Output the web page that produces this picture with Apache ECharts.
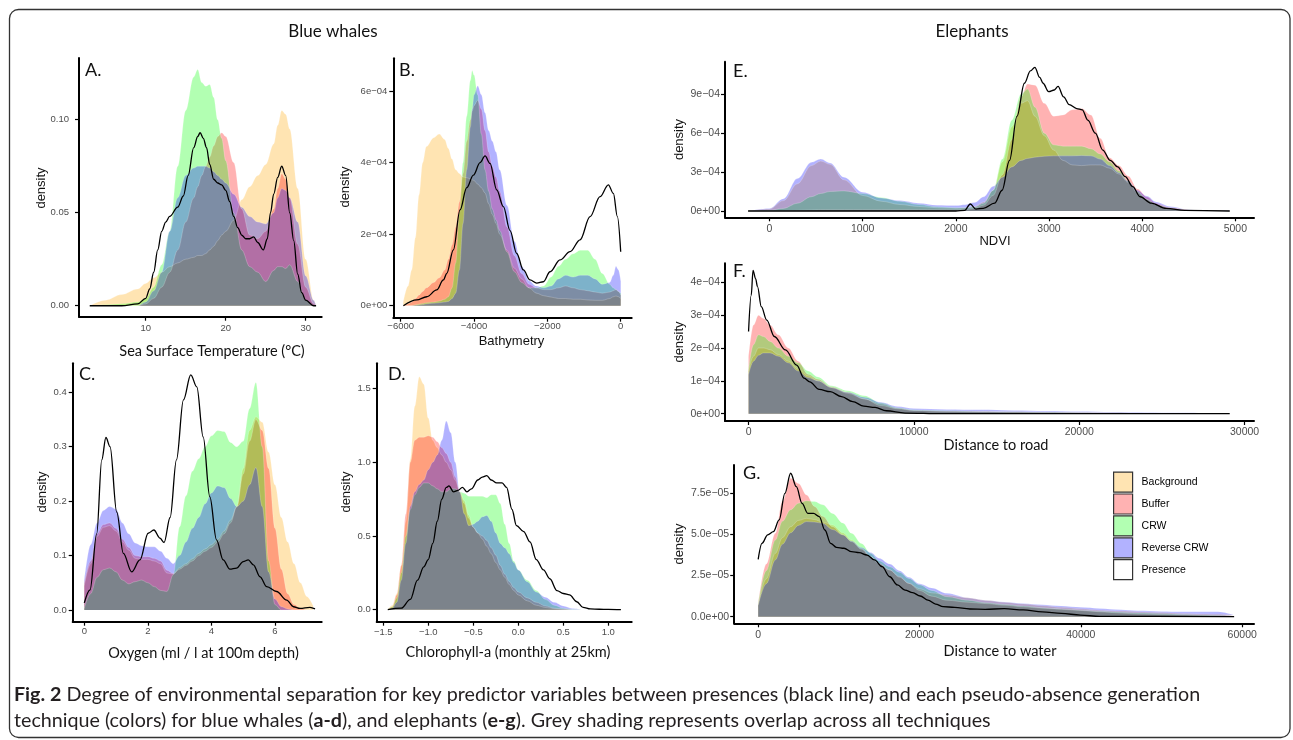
<!DOCTYPE html>
<html><head><meta charset="utf-8">
<script src="https://cdn.jsdelivr.net/npm/echarts@6/dist/echarts.min.js"></script>
<style>html,body{margin:0;padding:0;background:#fff}#c{width:1293px;height:740px}</style>
</head><body><div id="c"></div>
<script>
// ---------- shared ----------
const techniques = ['Background', 'Buffer', 'CRW', 'Reverse CRW'];
const presenceName = 'Presence';
const fillColors = ['#FFA500', '#FF0000', '#00FF00', '#0000FF'];
const legendColors = ['rgba(255,165,0,0.3)', 'rgba(255,0,0,0.3)', 'rgba(0,255,0,0.3)', 'rgba(0,0,255,0.3)'];

// ---------- A. Sea Surface Temperature ----------
const A_x = [3,5,7,9,10,11,12,13,14,15,16,16.5,17,17.5,18,18.5,19,19.5,20,21,22,23,24,25,26,26.5,27,27.5,28,29,30,31,31.3];
const A_background = [0,.003,.006,.009,.012,.015,.018,.021,.023,.025,.026,.027,.027,.028,.030,.032,.035,.038,.040,.046,.057,.064,.070,.076,.087,.097,.105,.103,.095,.063,.025,.003,0];
const A_buffer = [0,0,0,0,.001,.004,.01,.018,.03,.045,.058,.064,.07,.075,.08,.086,.091,.093,.091,.077,.052,.038,.036,.04,.052,.063,.071,.068,.058,.033,.01,.001,0];
const A_crw = [0,.0005,.001,.002,.004,.01,.022,.04,.075,.105,.123,.127,.12,.118,.119,.112,.1,.09,.078,.05,.03,.021,.018,.013,.019,.021,.021,.02,.022,.013,.003,0,0];
const A_reverse = [0,0,0,0,.002,.008,.018,.04,.058,.07,.074,.075,.075,.075,.074,.072,.07,.068,.066,.06,.053,.048,.045,.044,.05,.058,.063,.062,.058,.045,.016,.003,0];
const A_presence_x = [3,7,9,10,10.5,11,11.5,12,12.5,13,14,14.7,15.3,16,16.5,16.8,17.2,17.6,18,18.5,19,19.5,20,20.5,21,21.5,22,22.5,23,23.5,24,24.7,25.2,25.6,26,26.5,27,27.5,28,28.5,29,29.5,30,31,31.3];
const A_presence = [0,0,.001,.004,.009,.018,.03,.04,.045,.048,.053,.059,.07,.085,.091,.093,.09,.085,.076,.068,.066,.065,.062,.056,.048,.042,.038,.036,.036,.037,.034,.030,.036,.05,.06,.069,.075,.07,.05,.035,.017,.007,.003,0,0];
const A_xticks = [10, 20, 30];
const A_xlabels = ['10', '20', '30'];
const A_yticks = [0, 0.05, 0.10];
const A_ylabels = ['0.00', '0.05', '0.10'];

// ---------- B. Bathymetry (densities in units of 1e-4) ----------
const B_unit = 1e-4;
const B_x = [-5930,-5800,-5700,-5600,-5500,-5400,-5300,-5100,-4950,-4800,-4700,-4600,-4500,-4400,-4300,-4200,-4100,-4050,-4000,-3900,-3800,-3700,-3600,-3500,-3400,-3300,-3100,-2900,-2700,-2500,-2300,-2100,-1900,-1700,-1500,-1300,-1100,-900,-700,-500,-300,-200,-130,-60,0];
const B_background = [0.1,0.55,1.0,1.9,3.1,4.0,4.45,4.7,4.8,4.65,4.4,4.1,3.8,3.7,3.6,3.58,3.55,3.52,3.5,3.4,3.3,3.15,2.85,2.55,2.3,2.0,1.55,1.05,0.75,0.5,0.35,0.28,0.24,0.2,0.2,0.18,0.18,0.16,0.15,0.15,0.2,0.25,0.27,0.25,0.2];
const B_buffer = [0,0.05,0.1,0.2,0.3,0.4,0.5,0.65,0.78,1.0,1.3,1.7,2.2,2.9,3.7,4.6,5.2,5.45,5.6,5.75,5.5,4.9,4.3,3.9,3.6,3.2,2.2,1.4,0.9,0.6,0.5,0.45,0.45,0.5,0.55,0.5,0.45,0.42,0.38,0.35,0.38,0.42,0.45,0.4,0.3];
const B_crw = [0,0,0,0.02,0.04,0.06,0.08,0.1,0.13,0.18,0.25,0.5,1.2,2.6,4.0,5.3,6.3,6.58,6.45,5.9,4.8,3.8,3.2,2.7,2.4,2.1,1.5,0.95,0.65,0.5,0.5,0.55,0.8,1.1,1.3,1.45,1.55,1.55,1.3,0.9,0.6,0.5,0.45,0.4,0.35];
const B_reverse = [0,0,0,0.01,0.02,0.03,0.05,0.07,0.08,0.1,0.12,0.2,0.35,1.0,2.3,3.8,5.0,5.5,5.9,6.15,5.9,5.4,4.9,4.6,4.3,3.8,2.8,1.8,1.1,0.7,0.55,0.5,0.55,0.75,0.85,0.8,0.85,0.85,0.75,0.6,0.65,0.85,1.1,1.0,0.7];
const B_presence_x = [-5927,-5564,-5290,-5018,-4836,-4745,-4564,-4382,-4200,-4018,-3836,-3700,-3564,-3382,-3200,-3018,-2836,-2655,-2473,-2291,-2109,-1927,-1655,-1382,-1109,-836,-564,-336,-200,-91,0];
const B_presence = [0,0.16,0.25,0.44,0.72,0.9,1.56,2.68,3.3,3.65,4.0,4.19,3.98,3.24,2.77,2.1,1.46,1.0,0.72,0.63,0.67,0.95,1.28,1.51,1.84,2.49,3.05,3.38,3.14,2.49,1.51];
const B_xticks = [-6000, -4000, -2000, 0];
const B_xlabels = ['\u22126000', '\u22124000', '\u22122000', '0'];
const B_yticks = [0, 2e-4, 4e-4, 6e-4];
const B_ylabels = ['0e+00', '2e\u221204', '4e\u221204', '6e\u221204'];

// ---------- C. Oxygen ----------
const C_x = [0,0.2,0.4,0.6,0.8,1.0,1.2,1.4,1.6,1.8,2.0,2.2,2.4,2.6,2.8,3.0,3.2,3.4,3.6,3.8,4.0,4.2,4.4,4.6,4.8,5.0,5.2,5.4,5.6,5.8,6.0,6.2,6.4,6.6,6.8,7.0,7.2];
const C_background = [0.045,0.085,0.135,0.152,0.155,0.145,0.125,0.11,0.095,0.093,0.093,0.09,0.085,0.068,0.066,0.078,0.085,0.094,0.104,0.112,0.12,0.13,0.145,0.165,0.19,0.26,0.33,0.355,0.345,0.29,0.23,0.17,0.125,0.085,0.05,0.025,0.008];
const C_buffer = [0.049,0.09,0.14,0.157,0.16,0.15,0.13,0.115,0.1,0.098,0.098,0.095,0.09,0.073,0.067,0.075,0.082,0.09,0.1,0.108,0.115,0.125,0.14,0.16,0.19,0.25,0.31,0.35,0.33,0.26,0.15,0.075,0.03,0.01,0.003,0,0];
const C_crw = [0.003,0.03,0.06,0.074,0.077,0.07,0.055,0.048,0.052,0.055,0.05,0.043,0.036,0.034,0.065,0.153,0.21,0.255,0.278,0.3,0.32,0.33,0.328,0.308,0.3,0.31,0.37,0.418,0.3,0.09,0.01,0,0,0,0,0,0];
const C_reverse = [0.055,0.12,0.16,0.183,0.19,0.185,0.16,0.14,0.123,0.118,0.116,0.116,0.108,0.095,0.085,0.1,0.125,0.15,0.17,0.195,0.215,0.228,0.225,0.205,0.19,0.2,0.23,0.262,0.19,0.07,0.02,0.006,0.002,0,0,0,0];
const C_presence_x = [0,0.18,0.39,0.55,0.68,0.81,1.02,1.23,1.49,1.75,2.01,2.19,2.38,2.51,2.7,2.9,3.12,3.35,3.54,3.74,3.95,4.16,4.37,4.58,4.79,5.0,5.16,5.32,5.53,5.74,6.05,6.37,6.58,6.79,7.1,7.26];
const C_presence = [0.013,0.037,0.14,0.276,0.317,0.30,0.18,0.104,0.07,0.092,0.141,0.147,0.132,0.124,0.17,0.276,0.386,0.432,0.41,0.318,0.208,0.129,0.092,0.075,0.077,0.089,0.092,0.083,0.061,0.043,0.034,0.018,0.006,0.003,0.005,0.002];
const C_xticks = [0, 2, 4, 6];
const C_xlabels = ['0', '2', '4', '6'];
const C_yticks = [0, 0.1, 0.2, 0.3, 0.4];
const C_ylabels = ['0.0', '0.1', '0.2', '0.3', '0.4'];

// ---------- D. Chlorophyll-a ----------
const D_x = [-1.45,-1.4,-1.35,-1.3,-1.25,-1.2,-1.15,-1.1,-1.05,-1.0,-0.95,-0.9,-0.85,-0.8,-0.75,-0.7,-0.65,-0.6,-0.55,-0.5,-0.45,-0.4,-0.35,-0.3,-0.25,-0.2,-0.15,-0.1,-0.05,0,0.1,0.2,0.3,0.4,0.5,0.6,0.7];
const D_background = [0,0.03,0.11,0.3,0.6,1.02,1.38,1.58,1.53,1.3,1.15,1.1,1.05,1.0,0.95,0.88,0.8,0.74,0.64,0.56,0.52,0.48,0.43,0.38,0.32,0.27,0.22,0.17,0.13,0.1,0.06,0.03,0.015,0.007,0.003,0,0];
const D_buffer = [0,0.02,0.1,0.3,0.65,1.0,1.15,1.17,1.17,1.18,1.17,1.14,1.1,1.06,1.0,0.9,0.8,0.72,0.62,0.56,0.52,0.5,0.47,0.42,0.37,0.3,0.24,0.19,0.15,0.12,0.08,0.05,0.025,0.01,0.004,0,0];
const D_crw = [0,0.02,0.08,0.25,0.5,0.68,0.78,0.83,0.86,0.86,0.84,0.82,0.8,0.8,0.82,0.82,0.8,0.79,0.77,0.77,0.77,0.77,0.76,0.78,0.78,0.72,0.58,0.45,0.33,0.27,0.2,0.13,0.07,0.03,0.01,0.003,0];
const D_reverse = [0,0.01,0.05,0.2,0.45,0.7,0.8,0.85,0.88,0.95,1.0,1.05,1.15,1.28,1.2,1.0,0.8,0.65,0.57,0.58,0.6,0.63,0.64,0.6,0.52,0.45,0.42,0.38,0.32,0.27,0.19,0.12,0.085,0.05,0.025,0.008,0];
const D_presence_x = [-1.45,-1.3,-1.2,-1.12,-1.05,-1.0,-0.95,-0.9,-0.85,-0.8,-0.77,-0.72,-0.67,-0.62,-0.57,-0.52,-0.45,-0.4,-0.35,-0.3,-0.24,-0.18,-0.13,-0.07,-0.02,0.06,0.13,0.2,0.28,0.35,0.43,0.5,0.57,0.65,0.72,0.8,0.9,1.0,1.14];
const D_presence = [0,0.01,0.07,0.2,0.29,0.34,0.45,0.6,0.75,0.83,0.84,0.8,0.81,0.83,0.8,0.82,0.88,0.9,0.91,0.88,0.86,0.86,0.83,0.68,0.57,0.53,0.46,0.34,0.27,0.21,0.13,0.11,0.1,0.054,0.016,0.005,0.003,0.002,0];
const D_xticks = [-1.5, -1.0, -0.5, 0, 0.5, 1.0];
const D_xlabels = ['\u22121.5', '\u22121.0', '\u22120.5', '0.0', '0.5', '1.0'];
const D_yticks = [0, 0.5, 1.0, 1.5];
const D_ylabels = ['0.0', '0.5', '1.0', '1.5'];

// ---------- E. NDVI (units of 1e-4) ----------
const E_unit = 1e-4;
const E_x = [-230,0,150,300,450,550,650,800,1000,1200,1400,1600,1800,2000,2100,2200,2300,2400,2500,2600,2700,2770,2850,2950,3050,3150,3250,3350,3450,3550,3650,3750,3850,3950,4050,4150,4300,4500,4700,4940];
const E_background = [0,0.15,0.8,2.1,3.5,3.85,3.6,2.4,1.2,0.75,0.5,0.35,0.25,0.22,0.25,0.35,0.7,1.6,3.8,6.5,8.3,8.5,7.3,5.8,4.7,3.9,3.55,3.5,3.55,3.55,3.3,2.85,2.2,1.4,0.9,0.5,0.25,0.08,0.02,0];
const E_buffer = [0,0,0.02,0.05,0.08,0.1,0.1,0.1,0.1,0.1,0.1,0.1,0.1,0.1,0.12,0.2,0.45,1.2,2.8,5.5,8.8,9.8,9.7,8.3,7.3,7.4,7.8,7.9,7.4,5.6,4.1,3.5,2.7,1.7,1.1,0.6,0.25,0.08,0.02,0];
const E_crw = [0,0.05,0.2,0.6,1.1,1.35,1.5,1.55,1.35,1.05,0.75,0.5,0.32,0.25,0.25,0.3,0.6,1.6,4.0,7.0,9.0,9.4,8.0,6.0,5.1,5.0,5.0,5.0,4.8,4.4,3.8,3.1,2.3,1.5,0.9,0.5,0.2,0.06,0.02,0];
const E_reverse = [0,0.2,0.95,2.5,3.75,4.0,3.7,2.6,1.45,1.0,0.8,0.6,0.45,0.42,0.48,0.65,1.1,1.9,2.6,3.4,3.9,4.05,4.15,4.22,4.25,4.25,4.25,4.28,4.25,4.0,3.5,2.95,2.3,1.6,1.15,0.7,0.35,0.1,0.03,0];
const E_presence_x = [-230,2000,2095,2155,2215,2295,2416,2496,2576,2656,2736,2800,2848,2900,2936,2996,3057,3097,3157,3217,3297,3357,3417,3497,3577,3657,3737,3818,3898,3978,4098,4258,4459,4940];
const E_presence = [0,0,0.05,0.54,0.15,0.2,0.6,1.6,3.9,7.3,9.85,10.8,11.08,10.3,9.85,9.2,9.33,9.6,8.8,8.2,7.9,7.8,7.0,6.0,4.7,3.9,3.4,2.65,1.88,1.1,0.6,0.2,0.05,0];
const E_xticks = [0, 1000, 2000, 3000, 4000, 5000];
const E_xlabels = ['0', '1000', '2000', '3000', '4000', '5000'];
const E_yticks = [0, 3e-4, 6e-4, 9e-4];
const E_ylabels = ['0e+00', '3e\u221204', '6e\u221204', '9e\u221204'];

// ---------- F. Distance to road (units of 1e-4) ----------
const F_unit = 1e-4;
const F_x = [0,300,600,900,1300,1800,2400,3000,3600,4200,5000,6000,7000,8000,9000,10000,12000,14000,16000,18000,20000,22000,24000,26000,29100];
const F_background = [1.3,1.75,2.0,2.0,1.95,1.8,1.6,1.35,1.15,1.0,0.8,0.62,0.45,0.3,0.17,0.1,0.07,0.06,0.05,0.04,0.035,0.03,0.02,0.015,0.01];
const F_buffer = [1.74,2.7,3.0,2.9,2.7,2.4,2.0,1.6,1.2,1.05,0.82,0.65,0.45,0.25,0.15,0.1,0.08,0.07,0.06,0.05,0.04,0.03,0.02,0.015,0.01];
const F_crw = [1.35,2.1,2.4,2.35,2.2,2.0,1.75,1.55,1.3,1.12,0.85,0.7,0.55,0.33,0.18,0.12,0.09,0.07,0.06,0.05,0.04,0.03,0.02,0.015,0.01];
const F_reverse = [1.2,1.6,1.78,1.85,1.85,1.75,1.55,1.3,1.1,1.0,0.8,0.65,0.5,0.35,0.22,0.16,0.13,0.12,0.1,0.08,0.065,0.05,0.04,0.03,0.01];
const F_presence_x = [0,160,270,430,540,770,1100,1560,2230,2910,3360,3700,4270,4940,5620,6300,6970,7650,8330,9460,11700,29100];
const F_presence = [2.5,3.6,4.36,4.1,3.87,3.26,2.85,2.35,1.94,1.48,1.08,0.97,0.74,0.67,0.52,0.37,0.23,0.19,0.09,0.02,0,0];
const F_xticks = [0, 10000, 20000, 30000];
const F_xlabels = ['0', '10000', '20000', '30000'];
const F_yticks = [0, 1e-4, 2e-4, 3e-4, 4e-4];
const F_ylabels = ['0e+00', '1e\u221204', '2e\u221204', '3e\u221204', '4e\u221204'];

// ---------- G. Distance to water (units of 1e-5) ----------
const G_unit = 1e-5;
const G_x = [0,1000,2130,3000,4020,5000,6000,7000,8000,9220,10500,11580,12800,13950,15000,16310,17500,18680,20000,21500,23400,26000,28130,30500,32860,35200,37590,40000,42320,45000,47050,50000,52500,55000,57000,59000];
const G_background = [0.7,2.3,3.85,4.8,5.47,5.85,5.98,5.9,5.75,5.57,5.1,4.66,4.15,3.65,3.2,2.84,2.4,2.03,1.7,1.45,1.32,1.15,1.0,0.88,0.77,0.67,0.57,0.48,0.4,0.34,0.3,0.25,0.2,0.17,0.15,0.1];
const G_buffer = [0.8,3.2,5.07,7.0,8.41,8.1,7.4,6.7,6.1,5.47,5.0,4.56,4.1,3.65,3.25,2.84,2.45,2.03,1.6,1.25,1.0,0.88,0.8,0.7,0.6,0.52,0.45,0.38,0.3,0.22,0.16,0.13,0.1,0.08,0.06,0.05];
const G_crw = [0.8,2.8,4.66,5.8,6.5,6.9,7.05,7.0,6.8,6.28,5.7,5.07,4.45,3.85,3.4,3.04,2.7,2.33,1.95,1.6,1.22,1.0,0.85,0.75,0.65,0.55,0.47,0.4,0.33,0.27,0.22,0.18,0.14,0.1,0.08,0.05];
const G_reverse = [0.7,2.0,3.45,4.4,5.1,5.55,5.78,5.75,5.68,5.3,4.97,4.6,4.2,3.9,3.55,3.2,2.8,2.4,2.0,1.75,1.42,1.15,1.0,0.9,0.81,0.73,0.65,0.57,0.5,0.42,0.36,0.32,0.3,0.3,0.3,0.1];
const G_presence_x = [0,470,1180,1890,2600,3310,4020,4730,5440,6150,6860,7570,8270,8980,9690,10640,11580,12530,13470,14420,15360,16310,17260,18200,19150,20090,21040,21990,22930,24350,26240,28130,30500,32860,35220,37590,39950,42320,59000];
const G_presence = [3.49,4.46,4.97,5.17,5.88,7.5,8.72,7.9,6.89,6.28,6.28,6.08,5.27,4.46,4.22,4.16,3.95,3.89,3.75,3.45,3.04,2.43,1.93,1.62,1.46,1.26,1.01,0.77,0.61,0.57,0.47,0.45,0.49,0.41,0.3,0.2,0.1,0.02,0];
const G_xticks = [0, 20000, 40000, 60000];
const G_xlabels = ['0', '20000', '40000', '60000'];
const G_yticks = [0, 2.5e-5, 5e-5, 7.5e-5];
const G_ylabels = ['0.0e+00', '2.5e\u221205', '5.0e\u221205', '7.5e\u221205'];

// ---------- layout (positions / styles, not data) ----------
const panels = [
  {g:[79,58,242.7,258.7], xr:[1.66,32.0], yr:[-0.0059,0.1332], unit:1, x:A_x, f:[A_background,A_buffer,A_crw,A_reverse], px:A_presence_x, py:A_presence, xt:A_xticks, xl:A_xlabels, yt:A_yticks, yl:A_ylabels, fs:9.5, xm:7, ym:10},
  {g:[393.3,58.3,238.4,259.4], xr:[-6202,300], yr:[-3.36e-5,6.92e-4], unit:B_unit, x:B_x, f:[B_background,B_buffer,B_crw,B_reverse], px:B_presence_x, py:B_presence, xt:B_xticks, xl:B_xlabels, yt:B_yticks, yl:B_ylabels, fs:9.5, xm:4, ym:6},
  {g:[72.7,363.3,249,258.4], xr:[-0.365,7.47], yr:[-0.0215,0.4533], unit:1, x:C_x, f:[C_background,C_buffer,C_crw,C_reverse], px:C_presence_x, py:C_presence, xt:C_xticks, xl:C_xlabels, yt:C_yticks, yl:C_ylabels, fs:9.5, xm:5, ym:6},
  {g:[376.7,363.3,255,258.4], xr:[-1.573,1.26], yr:[-0.0815,1.672], unit:1, x:D_x, f:[D_background,D_buffer,D_crw,D_reverse], px:D_presence_x, py:D_presence, xt:D_xticks, xl:D_xlabels, yt:D_yticks, yl:D_ylabels, fs:9.5, xm:6, ym:6},
  {g:[725,61.7,529,155.6], xr:[-477.6,5200], yr:[-4.86e-5,1.151e-3], unit:E_unit, x:E_x, f:[E_background,E_buffer,E_crw,E_reverse], px:E_presence_x, py:E_presence, xt:E_xticks, xl:E_xlabels, yt:E_yticks, yl:E_ylabels, fs:10.5, xm:6, ym:5},
  {g:[725,263.3,529,157.7], xr:[-1425,30568], yr:[-2.22e-5,4.578e-4], unit:F_unit, x:F_x, f:[F_background,F_buffer,F_crw,F_reverse], px:F_presence_x, py:F_presence, xt:F_xticks, xl:F_xlabels, yt:F_yticks, yl:F_ylabels, fs:10.5, xm:6, ym:5},
  {g:[734.2,465,519.8,158.3], xr:[-2973,61462], yr:[-4.0e-6,9.22e-5], unit:G_unit, x:G_x, f:[G_background,G_buffer,G_crw,G_reverse], px:G_presence_x, py:G_presence, xt:G_xticks, xl:G_xlabels, yt:G_yticks, yl:G_ylabels, fs:10.5, xm:6, ym:5}
];

function labelFor(ticks, labels, v) {
  let best = 0, bd = Infinity;
  ticks.forEach((t, i) => { const d = Math.abs(t - v); if (d < bd) { bd = d; best = i; } });
  return labels[best];
}

const grid = [], xAxis = [], yAxis = [], series = [];
panels.forEach((p, i) => {
  grid.push({left: p.g[0], top: p.g[1], width: p.g[2], height: p.g[3]});
  const axisCommon = {
    type: 'value', gridIndex: i, splitLine: {show: false},
    axisLine: {show: true, onZero: false, lineStyle: {color: '#000', width: 2}}
  };
  xAxis.push(Object.assign({}, axisCommon, {
    min: p.xr[0], max: p.xr[1],
    axisTick: {show: true, length: 4, lineStyle: {color: '#000', width: 1.2}, customValues: p.xt},
    axisLabel: {customValues: p.xt, formatter: v => labelFor(p.xt, p.xl, v), color: '#4d4d4d', fontSize: p.fs, fontFamily: 'Liberation Sans', margin: p.xm}
  }));
  yAxis.push(Object.assign({}, axisCommon, {
    min: p.yr[0], max: p.yr[1],
    axisTick: {show: true, length: 4, lineStyle: {color: '#000', width: 1.2}, customValues: p.yt},
    axisLabel: {customValues: p.yt, formatter: v => labelFor(p.yt, p.yl, v), color: '#4d4d4d', fontSize: p.fs, fontFamily: 'Liberation Sans', margin: p.ym}
  }));
  p.f.forEach((ys, k) => {
    series.push({
      name: techniques[k], type: 'line', xAxisIndex: i, yAxisIndex: i,
      data: p.x.map((x, j) => [x, ys[j] * p.unit]),
      smooth: 0.35, smoothMonotone: 'x', showSymbol: false, silent: true,
      lineStyle: {width: 0.6, color: 'rgba(255,255,255,0.35)'},
      itemStyle: {color: fillColors[k]},
      areaStyle: {color: fillColors[k], opacity: 0.3}
    });
  });
  series.push({
    name: presenceName, type: 'line', xAxisIndex: i, yAxisIndex: i,
    data: p.px.map((x, j) => [x, p.py[j] * p.unit]),
    smooth: 0.35, smoothMonotone: 'x', showSymbol: false, silent: true,
    lineStyle: {width: 1.3, color: '#000'}, itemStyle: {color: '#000'}, z: 3
  });
});

const T = (text, x, y, o) => Object.assign({type: 'text', x: x, y: y, silent: true,
  style: Object.assign({text: text, fill: '#111', fontFamily: 'Lato', fontSize: 15, align: 'center', verticalAlign: 'middle'}, o && o.style || {})},
  o && o.rot ? {rotation: Math.PI / 2} : {});

const capRich = {b: {fontWeight: 'bold', fontSize: 19.7, fontFamily: 'Lato', fill: '#231f20'}};
const graphic = [
  {type: 'rect', silent: true, z: -10, shape: {x: 9.5, y: 9.5, width: 1280.5, height: 728, r: 9}, style: {fill: 'none', stroke: '#333', lineWidth: 1.3}},
  T('Blue whales', 333, 32, {style: {fontSize: 17}}),
  T('Elephants', 972, 32, {style: {fontSize: 17}}),
  T('A.', 85, 70, {style: {fontSize: 18, align: 'left'}}),
  T('B.', 399, 70, {style: {fontSize: 18, align: 'left'}}),
  T('C.', 79, 374, {style: {fontSize: 18, align: 'left'}}),
  T('D.', 388, 374, {style: {fontSize: 18, align: 'left'}}),
  T('E.', 733, 71, {style: {fontSize: 18, align: 'left'}}),
  T('F.', 733, 271, {style: {fontSize: 18, align: 'left'}}),
  T('G.', 743, 473, {style: {fontSize: 18, align: 'left'}}),
  T('Sea Surface Temperature (\u00b0C)', 212, 351, {style: {fontSize: 14.5}}),
  T('Bathymetry', 511.5, 341, {style: {fontSize: 13, fontFamily: 'Liberation Sans'}}),
  T('Oxygen (ml / l at 100m depth)', 203.5, 653, {style: {fontSize: 14.5}}),
  T('Chlorophyll-a (monthly at 25km)', 508, 652, {style: {fontSize: 14.5}}),
  T('NDVI', 995, 241, {style: {fontSize: 13, fontFamily: 'Liberation Sans'}}),
  T('Distance to road', 996, 445, {style: {fontSize: 14.5}}),
  T('Distance to water', 1000, 651, {style: {fontSize: 14.5}}),
  T('density', 41, 188, {rot: true, style: {fontSize: 13, fontFamily: 'Liberation Sans'}}),
  T('density', 345, 187, {rot: true, style: {fontSize: 13, fontFamily: 'Liberation Sans'}}),
  T('density', 42, 492, {rot: true, style: {fontSize: 13, fontFamily: 'Liberation Sans'}}),
  T('density', 346, 492, {rot: true, style: {fontSize: 13, fontFamily: 'Liberation Sans'}}),
  T('density', 679, 139.5, {rot: true, style: {fontSize: 13, fontFamily: 'Liberation Sans'}}),
  T('density', 679, 342, {rot: true, style: {fontSize: 13, fontFamily: 'Liberation Sans'}}),
  T('density', 679, 544, {rot: true, style: {fontSize: 13, fontFamily: 'Liberation Sans'}}),
  T('{b|Fig. 2} Degree of environmental separation for key predictor variables between presences (black line) and each pseudo-absence generation', 14, 695,
    {style: {align: 'left', fontSize: 19.7, fill: '#231f20', rich: capRich}}),
  T('technique (colors) for blue whales ({b|a-d}), and elephants ({b|e-g}). Grey shading represents overlap across all techniques', 14, 721,
    {style: {align: 'left', fontSize: 19.7, fill: '#231f20', rich: capRich}})
];

const legendData = techniques.map((n, k) => ({name: n, icon: 'rect', itemStyle: {color: legendColors[k], borderColor: '#333', borderWidth: 1.2}}));
legendData.push({name: presenceName, icon: 'rect', itemStyle: {color: '#fff', borderColor: '#333', borderWidth: 1.2}, lineStyle: {opacity: 0}});

const chart = echarts.init(document.getElementById('c'), null, {renderer: 'canvas'});
chart.setOption({
  animation: false,
  grid: grid, xAxis: xAxis, yAxis: yAxis, series: series, graphic: graphic,
  legend: {
    data: legendData, orient: 'vertical', left: 1113, top: 471.5, padding: 0,
    itemWidth: 19, itemHeight: 20, itemGap: 0.7, selectedMode: false,
    textStyle: {fontSize: 10.5, fontFamily: 'Liberation Sans', color: '#000', padding: [0, 0, 0, 4]}
  }
});
</script></body></html>
